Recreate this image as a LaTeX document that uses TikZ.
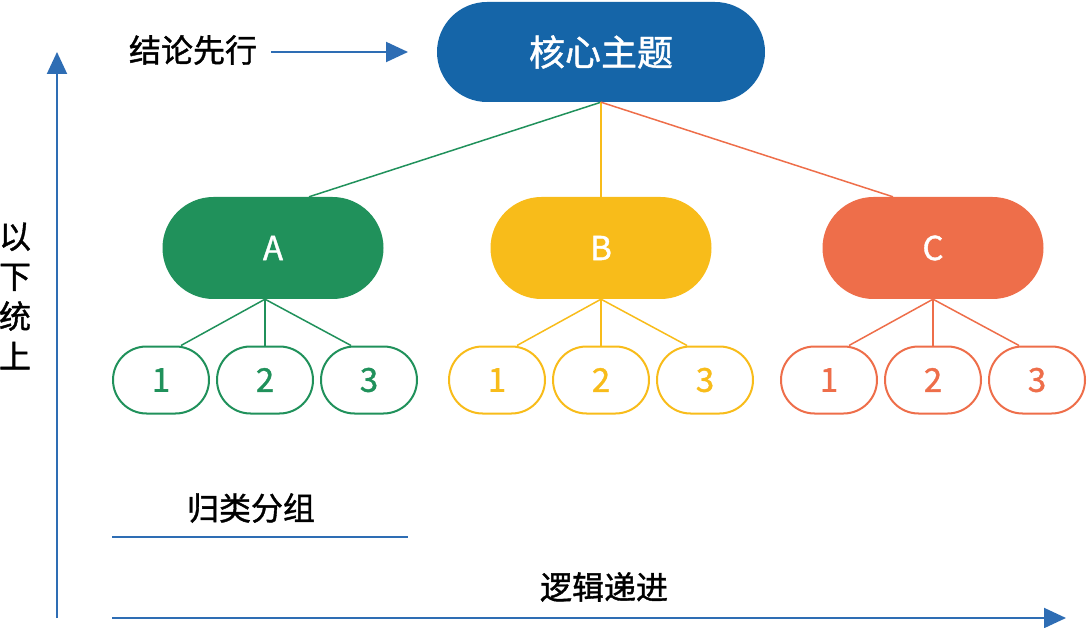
\documentclass[tikz,border=0pt]{standalone}
\usepackage{fontspec}
\setmainfont{Noto Sans CJK SC}
\newfontfamily\medfont{Noto Sans CJK SC}[FakeBold=1.2]
\usetikzlibrary{shapes.misc,arrows.meta}
\definecolor{mainblue}{HTML}{1565A8}
\definecolor{axisblue}{HTML}{2E6DB4}
\definecolor{cgreen}{HTML}{20915B}
\definecolor{cyellow}{HTML}{F8BC1A}
\definecolor{corange}{HTML}{EE6E4A}
\tikzset{
  pill/.style={rounded rectangle, inner sep=0pt, draw=none},
  bigpill/.style={pill, fill=#1, minimum width=221pt, minimum height=102pt, text=white, font=\medfont\fontsize{33}{36}\selectfont},
  smallpill/.style={pill, draw=#1, line width=2pt, fill=white, minimum width=96pt, minimum height=67pt, text=#1, font=\medfont\fontsize{33}{36}\selectfont},
  link/.style={draw=#1, line width=1.5pt},
  axis/.style={draw=axisblue, line width=2pt},
  axarrow/.style={axis, -{Triangle[length=22pt,width=20pt]}},
  lbl/.style={inner sep=0pt, text=black, font=\medfont\fontsize{32}{40}\selectfont}
}
\begin{document}
\begin{tikzpicture}[x=1pt,y=-1pt]
\useasboundingbox (0,0) rectangle (1087,628);
% main node
\node[pill, fill=mainblue, minimum width=328pt, minimum height=100pt, text=white, font=\medfont\fontsize{36}{40}\selectfont] (main) at (601,52) {核心主题};
% second level
\node[bigpill=cgreen] (A) at (273,248) {A};
\node[bigpill=cyellow] (B) at (601,248) {B};
\node[bigpill=corange] (C) at (933,248) {C};
% third level
\node[smallpill=cgreen] (a1) at (161,380) {1};
\node[smallpill=cgreen] (a2) at (265,380) {2};
\node[smallpill=cgreen] (a3) at (369,380) {3};
\node[smallpill=cyellow] (b1) at (497,380) {1};
\node[smallpill=cyellow] (b2) at (601,380) {2};
\node[smallpill=cyellow] (b3) at (705,380) {3};
\node[smallpill=corange] (c1) at (829,380) {1};
\node[smallpill=corange] (c2) at (933,380) {2};
\node[smallpill=corange] (c3) at (1037,380) {3};
% links main -> level 2
\draw[link=cgreen] (main.south) -- ([xshift=36pt]A.north);
\draw[link=cyellow] (main.south) -- (B.north);
\draw[link=corange] (main.south) -- ([xshift=-40pt]C.north);
% links level 2 -> level 3
\draw[link=cgreen] ([xshift=-8pt]A.south) -- ([xshift=20pt]a1.north);
\draw[link=cgreen] ([xshift=-8pt]A.south) -- (a2.north);
\draw[link=cgreen] ([xshift=-8pt]A.south) -- ([xshift=-18pt]a3.north);
\draw[link=cyellow] (B.south) -- ([xshift=20pt]b1.north);
\draw[link=cyellow] (B.south) -- (b2.north);
\draw[link=cyellow] (B.south) -- ([xshift=-18pt]b3.north);
\draw[link=corange] (C.south) -- ([xshift=20pt]c1.north);
\draw[link=corange] (C.south) -- (c2.north);
\draw[link=corange] (C.south) -- ([xshift=-18pt]c3.north);
% labels
\node[lbl] (concl) at (193,50) {结论先行};
\coordinate (concltip) at (408,52);
\draw[axis, -{Triangle[length=22pt,width=20pt]}] ([xshift=14pt,yshift=-2pt]concl.east) -- (concltip);
\node[lbl, align=center] (vert) at (15,296) {以\\下\\统\\上};
\node[lbl] (group) at (251,508) {归类分组};
\coordinate (gl) at (112,537);
\coordinate (gr) at (408,537);
\draw[axis] (gl) -- (gr);
\node[lbl] (logic) at (604,587) {逻辑递进};
% axes
\coordinate (origin) at (57,618);
\coordinate (ytip) at (57,52);
\coordinate (xstart) at (112,618);
\coordinate (xtip) at (1066,618);
\draw[axarrow] (origin) -- (ytip);
\draw[axarrow] (xstart) -- (xtip);
\end{tikzpicture}
\end{document}
